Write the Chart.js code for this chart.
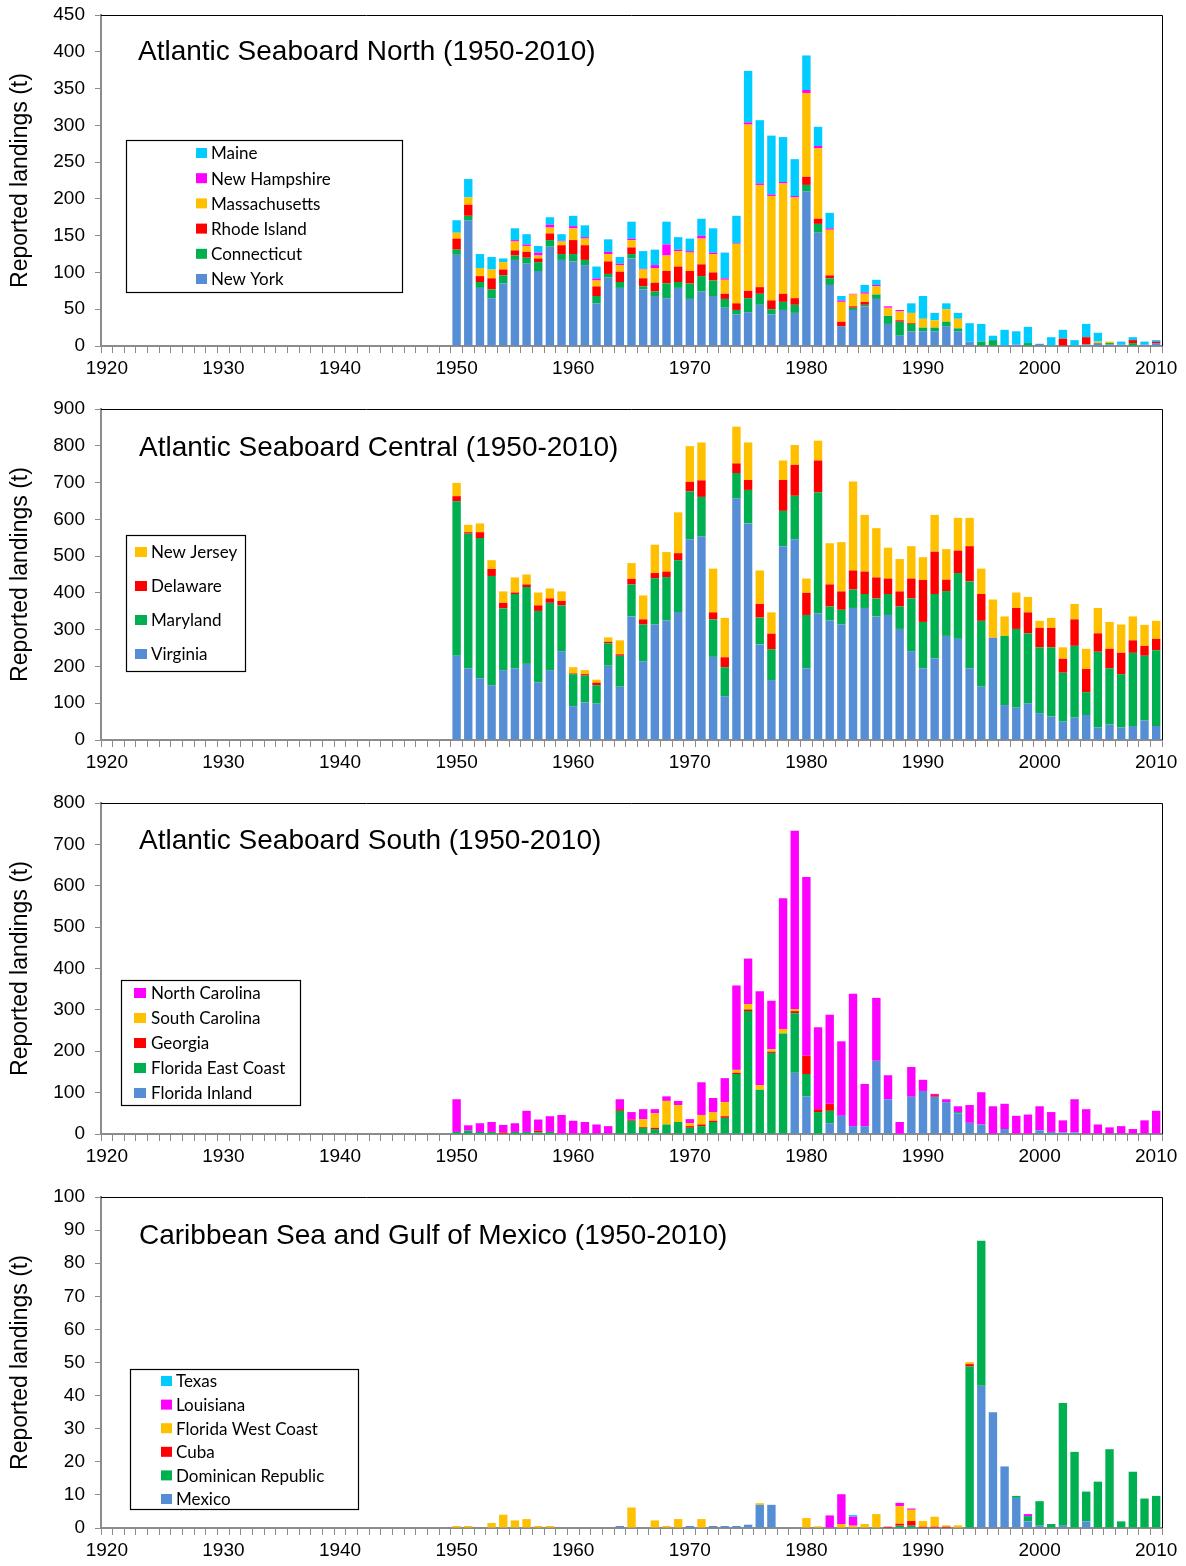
<!DOCTYPE html>
<html>
<head>
<meta charset="utf-8">
<title>Reported landings by region, 1950-2010</title>
<script src="https://cdn.jsdelivr.net/npm/chart.js@4.4.1/dist/chart.umd.min.js"></script>
<style>
  html, body { margin: 0; padding: 0; background: #fff; }
  body { width: 1186px; height: 1566px; overflow: hidden; position: relative; }
  .panel { position: absolute; left: 0; width: 1186px; height: 394px; }
</style>
</head>
<body>
<div class="panel" style="top:0px"><canvas id="north" width="1186" height="394"></canvas></div>
<div class="panel" style="top:394px"><canvas id="central" width="1186" height="394"></canvas></div>
<div class="panel" style="top:788px"><canvas id="south" width="1186" height="394"></canvas></div>
<div class="panel" style="top:1182px"><canvas id="caribbean" width="1186" height="394"></canvas></div>

<script>
// x axis runs 1920-2010, landings only reported from 1950
const years = [];
for (let y = 1920; y <= 2010; y++) years.push(y);
const firstDataYear = 1950;

// ---- Atlantic Seaboard North (1950 ... 2010, one value per year)
const newYork = [
  124, 171, 79, 65, 85, 117, 112, 102, 135, 117,
  115, 110, 58, 93, 79, 119, 77, 68, 65, 79,
  64, 74, 68, 52, 43, 46, 56, 43, 49, 45,
  210, 154, 83, 27, 49, 54, 64, 30, 14, 20,
  20, 20, 27, 20, 6, 0, 0, 0, 2, 0,
  3, 1, 0, 0, 2, 4, 2, 2, 0, 2,
  4];
const connecticut = [
  7, 6, 8, 12, 11, 6, 8, 12, 9, 8,
  10, 7, 10, 5, 8, 6, 4, 6, 20, 8,
  21, 21, 21, 12, 6, 19, 15, 7, 11, 11,
  9, 12, 9, 0, 3, 2, 6, 11, 19, 10,
  5, 5, 6, 4, 0, 6, 8, 0, 0, 4,
  0, 0, 0, 0, 0, 0, 2, 0, 4, 0,
  0];
const rhodeIsland = [
  15, 15, 8, 15, 8, 7, 8, 5, 9, 12,
  19, 20, 13, 17, 14, 9, 11, 12, 17, 21,
  17, 16, 11, 7, 9, 10, 9, 12, 11, 9,
  11, 7, 4, 6, 2, 4, 0, 0, 2, 1,
  0, 0, 0, 0, 0, 0, 0, 0, 0, 0,
  0, 0, 10, 0, 10, 0, 0, 0, 4, 0,
  2];
const massachusetts = [
  8, 10, 11, 12, 10, 12, 8, 4, 8, 5,
  16, 9, 8, 10, 9, 10, 12, 20, 21, 21,
  25, 35, 25, 19, 81, 226, 139, 142, 150, 137,
  114, 96, 62, 27, 16, 11, 11, 11, 12, 14,
  12, 10, 17, 13, 0, 0, 0, 0, 0, 0,
  0, 0, 0, 0, 0, 2, 2, 0, 0, 0,
  0];
const newHampshire = [
  0, 0, 0, 0, 0, 2, 2, 4, 4, 1,
  3, 2, 3, 3, 2, 2, 1, 4, 15, 2,
  2, 4, 2, 2, 1, 3, 2, 2, 2, 2,
  4, 3, 2, 2, 1, 2, 2, 2, 2, 0,
  0, 0, 0, 0, 0, 0, 0, 0, 0, 0,
  0, 0, 0, 0, 0, 0, 0, 0, 0, 0,
  0];
const maine = [
  17, 25, 19, 17, 5, 16, 14, 9, 10, 9,
  14, 16, 16, 17, 9, 23, 24, 21, 31, 17,
  17, 23, 33, 35, 37, 70, 86, 80, 61, 50,
  47, 26, 21, 6, 0, 10, 7, 0, 0, 13,
  31, 10, 8, 8, 25, 24, 6, 22, 18, 22,
  0, 11, 12, 8, 18, 12, 0, 4, 4, 4,
  2];

// ---- Atlantic Seaboard Central
const virginia = [
  229, 195, 168, 149, 190, 195, 207, 157, 190, 241,
  92, 102, 99, 202, 145, 336, 214, 314, 325, 348,
  546, 554, 226, 119, 657, 589, 260, 163, 527, 546,
  195, 344, 325, 314, 359, 359, 336, 340, 302, 241,
  195, 222, 283, 275, 195, 145, 278, 95, 88, 100,
  73, 64, 50, 61, 68, 34, 42, 34, 38, 53,
  38];
const maryland = [
  420, 366, 381, 297, 168, 202, 209, 194, 183, 125,
  87, 73, 50, 61, 84, 87, 100, 126, 118, 141,
  130, 107, 102, 79, 69, 91, 73, 84, 96, 118,
  145, 329, 38, 40, 50, 38, 49, 57, 61, 144,
  126, 175, 122, 179, 236, 179, 0, 188, 214, 190,
  179, 188, 133, 195, 62, 206, 153, 145, 199, 176,
  206];
const delaware = [
  14, 4, 16, 19, 15, 4, 7, 15, 12, 12,
  2, 4, 7, 4, 4, 15, 14, 14, 15, 19,
  26, 45, 19, 27, 26, 27, 37, 42, 84, 84,
  60, 87, 60, 50, 52, 61, 57, 42, 41, 54,
  114, 115, 31, 61, 96, 73, 0, 0, 57, 57,
  53, 53, 38, 72, 63, 50, 53, 58, 34, 27,
  31];
const newJersey = [
  36, 20, 24, 24, 31, 41, 27, 35, 27, 26,
  17, 11, 8, 12, 38, 43, 65, 77, 53, 111,
  97, 103, 119, 107, 100, 102, 91, 58, 53, 54,
  39, 54, 112, 134, 242, 154, 134, 84, 88, 88,
  62, 100, 83, 89, 77, 69, 104, 53, 42, 42,
  19, 27, 31, 42, 55, 69, 73, 77, 65, 57,
  49];

// ---- Atlantic Seaboard South
const floridaInland = [
  0, 0, 0, 0, 0, 0, 0, 0, 0, 0,
  0, 0, 0, 0, 0, 0, 0, 0, 0, 0,
  0, 0, 0, 0, 0, 0, 0, 0, 0, 148,
  91, 0, 26, 44, 19, 19, 177, 84, 0, 90,
  104, 90, 77, 50, 27, 23, 0, 12, 0, 0,
  9, 5, 4, 4, 0, 0, 0, 0, 0, 0,
  0];
const floridaEast = [
  5, 8, 5, 5, 0, 5, 5, 4, 5, 0,
  0, 0, 0, 0, 56, 32, 15, 12, 23, 29,
  15, 19, 29, 39, 145, 297, 107, 196, 243, 144,
  54, 53, 30, 0, 0, 0, 0, 0, 0, 0,
  0, 0, 0, 3, 0, 0, 0, 0, 0, 0,
  0, 0, 0, 0, 0, 0, 0, 0, 0, 0,
  0];
const georgia = [
  0, 0, 0, 0, 4, 0, 0, 4, 0, 0,
  0, 0, 0, 0, 4, 3, 2, 3, 0, 0,
  4, 4, 3, 4, 3, 4, 0, 3, 0, 5,
  44, 7, 17, 0, 0, 0, 0, 0, 0, 0,
  0, 4, 0, 0, 0, 0, 0, 0, 0, 0,
  0, 0, 0, 0, 0, 0, 0, 0, 0, 0,
  0];
const southCarolina = [
  0, 0, 0, 0, 0, 0, 0, 0, 0, 0,
  0, 0, 0, 0, 0, 0, 19, 35, 57, 41,
  7, 23, 21, 34, 7, 13, 11, 6, 11, 5,
  0, 0, 0, 0, 0, 0, 0, 0, 0, 0,
  0, 0, 0, 0, 0, 0, 0, 0, 0, 0,
  0, 0, 0, 0, 0, 0, 0, 0, 0, 0,
  0];
const northCarolina = [
  79, 13, 21, 24, 18, 21, 51, 27, 38, 46,
  32, 29, 23, 19, 24, 18, 24, 10, 11, 10,
  10, 79, 34, 58, 204, 110, 227, 117, 316, 431,
  432, 198, 215, 180, 320, 102, 152, 58, 29, 72,
  27, 3, 7, 14, 43, 78, 67, 61, 44, 47,
  58, 48, 29, 80, 60, 23, 16, 19, 12, 33,
  56];

// ---- Caribbean Sea and Gulf of Mexico
const mexico = [
  0, 0, 0, 0, 0, 0, 0, 0, 0, 0,
  0, 0, 0, 0, 0.6, 0, 0, 0, 0, 0,
  0.6, 0, 0.6, 0.6, 0.6, 1.0, 7.0, 7.0, 0, 0,
  0, 0, 0, 0, 0, 0, 0, 0, 0, 0,
  0, 0, 0, 0, 0, 43, 35, 18.6, 9.1, 2,
  0.7, 0, 0.7, 0, 2, 0, 0, 0, 0, 0,
  0];
const dominicanRep = [
  0, 0, 0, 0, 0, 0, 0, 0, 0, 0,
  0, 0, 0, 0, 0, 0, 0, 0, 0, 0,
  0, 0, 0, 0, 0, 0, 0, 0, 0, 0,
  0, 0, 0, 0, 0, 0, 0, 0, 0.7, 0.7,
  0, 0, 0, 0, 48.8, 43.8, 0, 0, 0.6, 1.6,
  7.4, 1.2, 37.1, 23, 9, 14, 23.8, 2, 17, 8.9,
  9.7];
const cuba = [
  0, 0, 0, 0, 0, 0, 0, 0, 0, 0,
  0, 0, 0, 0, 0, 0, 0, 0, 0, 0,
  0, 0, 0, 0, 0, 0, 0, 0, 0, 0,
  0, 0, 0, 0, 0, 0, 0, 0.4, 0.6, 1.4,
  0.4, 0.4, 0.4, 0, 0.7, 0, 0, 0, 0, 0,
  0, 0, 0, 0, 0, 0, 0, 0, 0, 0,
  0];
const floridaWest = [
  0.6, 0.6, 0, 1.5, 4.0, 2.3, 2.7, 0.6, 0.6, 0,
  0, 0, 0, 0, 0, 6.2, 0, 2.3, 0.6, 2.7,
  0, 2.7, 0, 0, 0, 0, 0.5, 0, 0, 0,
  3.0, 0.5, 0, 1.2, 0.7, 1.2, 4.2, 0, 5.3, 3.4,
  1.7, 3.0, 0.4, 0.8, 0.6, 0, 0, 0, 0, 0,
  0, 0, 0, 0, 0, 0, 0, 0, 0, 0,
  0];
const louisiana = [
  0, 0, 0, 0, 0, 0, 0, 0, 0, 0,
  0, 0, 0, 0, 0, 0, 0, 0, 0, 0,
  0, 0, 0, 0, 0, 0, 0, 0, 0, 0,
  0, 0, 3.8, 9.0, 2.7, 0, 0, 0, 1.0, 0.4,
  0, 0, 0, 0, 0, 0, 0, 0, 0, 0.6,
  0, 0, 0, 0, 0, 0, 0, 0, 0, 0,
  0];
const texas = [
  0, 0, 0, 0, 0, 0, 0, 0, 0, 0,
  0, 0, 0, 0, 0, 0, 0, 0, 0, 0,
  0, 0, 0, 0, 0, 0, 0, 0, 0, 0,
  0, 0, 0, 0, 0.5, 0, 0, 0, 0, 0,
  0, 0, 0, 0, 0, 0, 0, 0, 0, 0,
  0, 0, 0, 0, 0, 0, 0, 0, 0, 0,
  0];

const COLORS = {
  blue: '#558ED5',
  green: '#00B050',
  red: '#FF0000',
  yellow: '#FFC000',
  magenta: '#FF00FF',
  cyan: '#00CCFF'
};

Chart.defaults.font.family = '"Liberation Sans", Arial, sans-serif';
Chart.defaults.color = '#000';

// spread a 1950-2010 series over the full 1920-2010 axis
function toSeries(values) {
  return years.map(y => y < firstDataYear ? null : values[y - firstDataYear]);
}

function series(label, values, color) {
  return {
    label: label,
    data: toSeries(values),
    backgroundColor: color,
    borderWidth: 0,
    barPercentage: 0.72,
    categoryPercentage: 1.0
  };
}

// panel title, top/right frame and the boxed legend inside the plot
const panelDecor = {
  id: 'panelDecor',
  afterDraw(chart, args, opts) {
    const ctx = chart.ctx;
    const area = chart.chartArea;
    ctx.save();

    ctx.strokeStyle = '#000';
    ctx.lineWidth = 1;
    ctx.beginPath();
    ctx.moveTo(area.left, Math.round(area.top) + 0.5);
    ctx.lineTo(Math.round(area.right) + 0.5, Math.round(area.top) + 0.5);
    ctx.lineTo(Math.round(area.right) + 0.5, area.bottom);
    ctx.stroke();

    ctx.fillStyle = '#000';
    ctx.font = '28px "Liberation Sans", Arial, sans-serif';
    ctx.textBaseline = 'alphabetic';
    ctx.textAlign = 'left';
    ctx.fillText(opts.title, opts.titleX, opts.titleY);

    const lg = opts.legend;
    ctx.fillStyle = '#fff';
    ctx.fillRect(lg.x, lg.y, lg.w, lg.h);
    ctx.strokeStyle = '#000';
    ctx.lineWidth = 1.2;
    ctx.strokeRect(lg.x + 0.5, lg.y + 0.5, lg.w, lg.h);

    ctx.font = '17px Lato, "Noto Sans", sans-serif';
    ctx.textBaseline = 'middle';
    const items = chart.data.datasets.slice().reverse();
    items.forEach((ds, i) => {
      const cy = lg.firstRow + i * lg.step;
      ctx.fillStyle = ds.backgroundColor;
      ctx.fillRect(lg.markerX, cy - 5, lg.markerW, 10);
      ctx.fillStyle = '#000';
      ctx.fillText(ds.label, lg.textX, cy + 1);
    });
    ctx.restore();
  }
};

function makePanel(canvasId, datasets, yMax, yStep, decor) {
  const ctx = document.getElementById(canvasId).getContext('2d');
  return new Chart(ctx, {
    type: 'bar',
    data: { labels: years, datasets: datasets },
    plugins: [panelDecor],
    options: {
      responsive: false,
      animation: false,
      layout: { padding: { top: 15, right: 24, bottom: 0, left: 0 } },
      plugins: {
        legend: { display: false },
        tooltip: { enabled: false },
        panelDecor: decor
      },
      scales: {
        x: {
          stacked: true,
          grid: { offset: true, drawOnChartArea: false, tickLength: 7, color: '#8c8c8c', lineWidth: 1 },
          border: { color: '#8c8c8c', width: 2 },
          ticks: {
            autoSkip: false,
            maxRotation: 0,
            minRotation: 0,
            padding: 4,
            font: { size: 19 },
            callback: function(value, index) {
              const y = years[index];
              return y % 10 === 0 ? String(y) : '';
            }
          },
          afterFit: function(scale) { scale.height = 48; }
        },
        y: {
          stacked: true,
          min: 0,
          max: yMax,
          grid: { drawOnChartArea: false, tickLength: 6, color: '#8c8c8c', lineWidth: 1 },
          border: { color: '#8c8c8c', width: 2 },
          ticks: { stepSize: yStep, padding: 10, font: { size: 19 } },
          title: {
            display: true,
            text: 'Reported landings (t)',
            font: { size: 23 },
            padding: { top: 7, bottom: 0 }
          },
          afterFit: function(scale) {
            scale.width = 101;
            // top label may overhang the frame; keep the plot top fixed
            scale.paddingTop = 0;
            scale.paddingBottom = 0;
          }
        }
      }
    }
  });
}

makePanel('north', [
  series('New York', newYork, COLORS.blue),
  series('Connecticut', connecticut, COLORS.green),
  series('Rhode Island', rhodeIsland, COLORS.red),
  series('Massachusetts', massachusetts, COLORS.yellow),
  series('New Hampshire', newHampshire, COLORS.magenta),
  series('Maine', maine, COLORS.cyan)
], 450, 50, {
  title: 'Atlantic Seaboard North (1950-2010)', titleX: 138, titleY: 60,
  legend: { x: 126, y: 140, w: 276, h: 152, firstRow: 153, step: 25.2, markerX: 196, markerW: 11, textX: 211 }
});

makePanel('central', [
  series('Virginia', virginia, COLORS.blue),
  series('Maryland', maryland, COLORS.green),
  series('Delaware', delaware, COLORS.red),
  series('New Jersey', newJersey, COLORS.yellow)
], 900, 100, {
  title: 'Atlantic Seaboard Central (1950-2010)', titleX: 139, titleY: 62,
  legend: { x: 126, y: 141, w: 119, h: 136, firstRow: 158, step: 34, markerX: 135, markerW: 12, textX: 151 }
});

makePanel('south', [
  series('Florida Inland', floridaInland, COLORS.blue),
  series('Florida East Coast', floridaEast, COLORS.green),
  series('Georgia', georgia, COLORS.red),
  series('South Carolina', southCarolina, COLORS.yellow),
  series('North Carolina', northCarolina, COLORS.magenta)
], 800, 100, {
  title: 'Atlantic Seaboard South (1950-2010)', titleX: 139, titleY: 61,
  legend: { x: 121, y: 192, w: 179, h: 125, firstRow: 205, step: 25, markerX: 134, markerW: 12, textX: 151 }
});

makePanel('caribbean', [
  series('Mexico', mexico, COLORS.blue),
  series('Dominican Republic', dominicanRep, COLORS.green),
  series('Cuba', cuba, COLORS.red),
  series('Florida West Coast', floridaWest, COLORS.yellow),
  series('Louisiana', louisiana, COLORS.magenta),
  series('Texas', texas, COLORS.cyan)
], 100, 10, {
  title: 'Caribbean Sea and Gulf of Mexico (1950-2010)', titleX: 139, titleY: 62,
  legend: { x: 130, y: 187, w: 228, h: 140, firstRow: 199, step: 23.6, markerX: 161, markerW: 11, textX: 176 }
});
</script>
</body>
</html>
